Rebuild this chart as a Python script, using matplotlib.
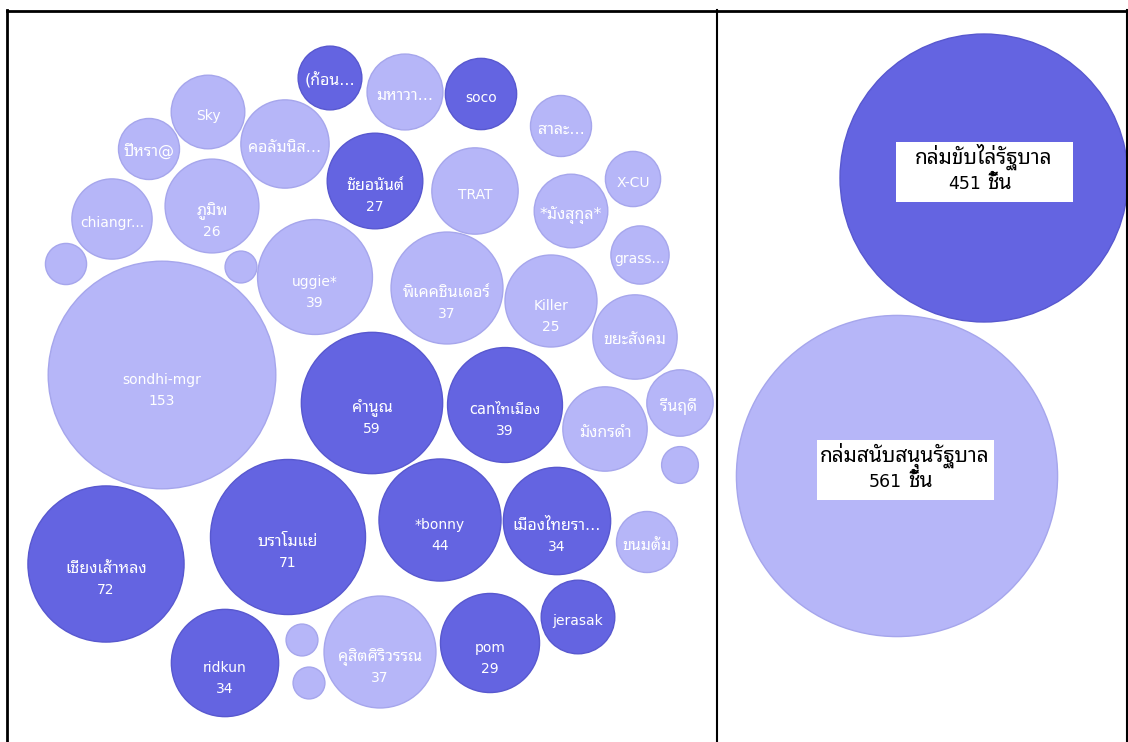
import matplotlib
matplotlib.use("Agg")
import re
import numpy as np
import matplotlib.pyplot as plt
from matplotlib.patches import Circle, Rectangle

# ข้อมูล: ชื่อ, จำนวนชิ้น, กลุ่ม (1 = ขับไล่รัฐบาล, 0 = สนับสนุนรัฐบาล)
names = ["(ก้อน...", "มหาวา...", "soco", "Sky", "ปีหรา@", "คอลัมนิส...",
         "ชัยอนันต์", "TRAT", "สาละ...", "X-CU", "*มังสุกุล*", "chiangr...",
         "ภูมิพ", "", "", "uggie*", "พิเคคชินเดอร์", "Killer", "grass...",
         "ขยะสังคม", "sondhi-mgr", "คำนูณ", "canไทเมือง", "รีนฤดี", "มังกรดำ",
         "", "เชี่ยงเส้าหลง", "บราโมแย่", "*bonny", "เมืองไทยรา...", "ขนมต้ม",
         "ridkun", "", "", "คุสิตศิริวรรณ", "pom", "jerasak"]
values = [12, 17, 15, 16, 11, 23,
          27, 22, 11, 9, 16, 19,
          26, 5, 3, 39, 37, 25, 10,
          21, 153, 59, 39, 13, 21,
          4, 72, 71, 44, 34, 11,
          34, 3, 3, 37, 29, 16]
group = [1, 0, 1, 0, 0, 0,
         1, 0, 0, 0, 0, 0,
         0, 0, 0, 0, 0, 0, 0,
         0, 0, 1, 1, 0, 0,
         0, 1, 1, 1, 1, 0,
         1, 0, 0, 0, 1, 1]

# สรุปสองกลุ่ม
sum_names = ["กล่มขับไล่รัฐบาล", "กล่มสนับสนุนรัฐบาล"]
sum_values = [451, 561]
sum_group = [1, 0]

# ตำแหน่งวงกลม (layout ของ bubble packing, หน่วยพิกเซล)
cx = [330, 405, 481, 208, 149, 285,
      375, 475, 561, 633, 571, 112,
      212, 66, 241, 315, 447, 551, 640,
      635, 162, 372, 505, 680, 605,
      680, 106, 288, 440, 557, 647,
      225, 302, 309, 380, 490, 578]
cy = [78, 92, 94, 112, 149, 144,
      181, 191, 126, 179, 211, 219,
      206, 264, 267, 277, 288, 301, 255,
      337, 375, 403, 405, 403, 429,
      465, 564, 537, 520, 521, 542,
      663, 640, 683, 652, 643, 617]
sum_cx = [984, 897]
sum_cy = [178, 476]

DARK = "#6464e1"
LIGHT = "#b6b6f8"
fills = {1: DARK, 0: LIGHT}
edges = {1: "#5858cf", 0: "#a6a6ec"}
FONT = ["DejaVu Sans", "Noto Sans Thai Looped", "Sarabun", "Noto Sans Thai"]
THAI = re.compile("[\u0e00-\u0e7f]")

K_LEFT = 9.2    # รัศมี = K * sqrt(ค่า)
K_RIGHT = 6.78


def label_size(s):
    # อักษรไทยในฟอนต์สำรองตัวเล็กกว่า จึงขยายขนาด
    if THAI.search(s) is None:
        return 10
    if re.search("[A-Za-z]", s):
        return 10.5
    return 11.5


fig = plt.figure(figsize=(11.28, 7.42), dpi=100)
ax = fig.add_axes([0, 0, 1, 1])
ax.set_xlim(0, 1128)
ax.set_ylim(742, 0)
ax.axis("off")

# ฟองซ้าย
for i in range(len(names)):
    r = K_LEFT * np.sqrt(values[i])
    ax.add_patch(Circle((cx[i], cy[i]), r, facecolor=fills[group[i]],
                        edgecolor=edges[group[i]], lw=1))
    if names[i] == "":
        continue
    fs = label_size(names[i])
    if values[i] >= 25:
        ax.text(cx[i], cy[i] + 9, names[i], ha="center", va="baseline",
                color="white", fontsize=fs, family=FONT)
        ax.text(cx[i], cy[i] + 30, str(values[i]), ha="center", va="baseline",
                color="white", fontsize=10, family=FONT)
    else:
        ax.text(cx[i], cy[i] + 8, names[i], ha="center", va="baseline",
                color="white", fontsize=fs, family=FONT)

# ฟองขวา (สรุป)
for i in range(len(sum_names)):
    r = K_RIGHT * np.sqrt(sum_values[i])
    ax.add_patch(Circle((sum_cx[i], sum_cy[i]), r, facecolor=fills[sum_group[i]],
                        edgecolor=edges[sum_group[i]], lw=1))
    bx = sum_cx[i] + (0 if sum_group[i] else 8)
    by = sum_cy[i] - 6
    ax.add_patch(Rectangle((bx - 88, by - 30), 177, 60, facecolor="white",
                           edgecolor="none"))
    ax.text(bx, by - 8, sum_names[i], ha="center", va="baseline",
            color="black", fontsize=15, family=FONT)
    ax.text(bx - 3, by + 17, str(sum_values[i]), ha="right", va="baseline",
            color="black", fontsize=12.5, family=FONT)
    ax.text(bx + 3, by + 17, "ชิ้น", ha="left", va="baseline",
            color="black", fontsize=15, family=FONT)

# เส้นตาราง
ax.plot([7, 1127], [10.5, 10.5], color="black", lw=2)
ax.plot([7, 7], [10, 742], color="black", lw=2)
ax.plot([717, 717], [10, 742], color="black", lw=1.5)
ax.plot([1126.5, 1126.5], [10, 742], color="black", lw=1.5)

fig.savefig("out.png", dpi=100)
